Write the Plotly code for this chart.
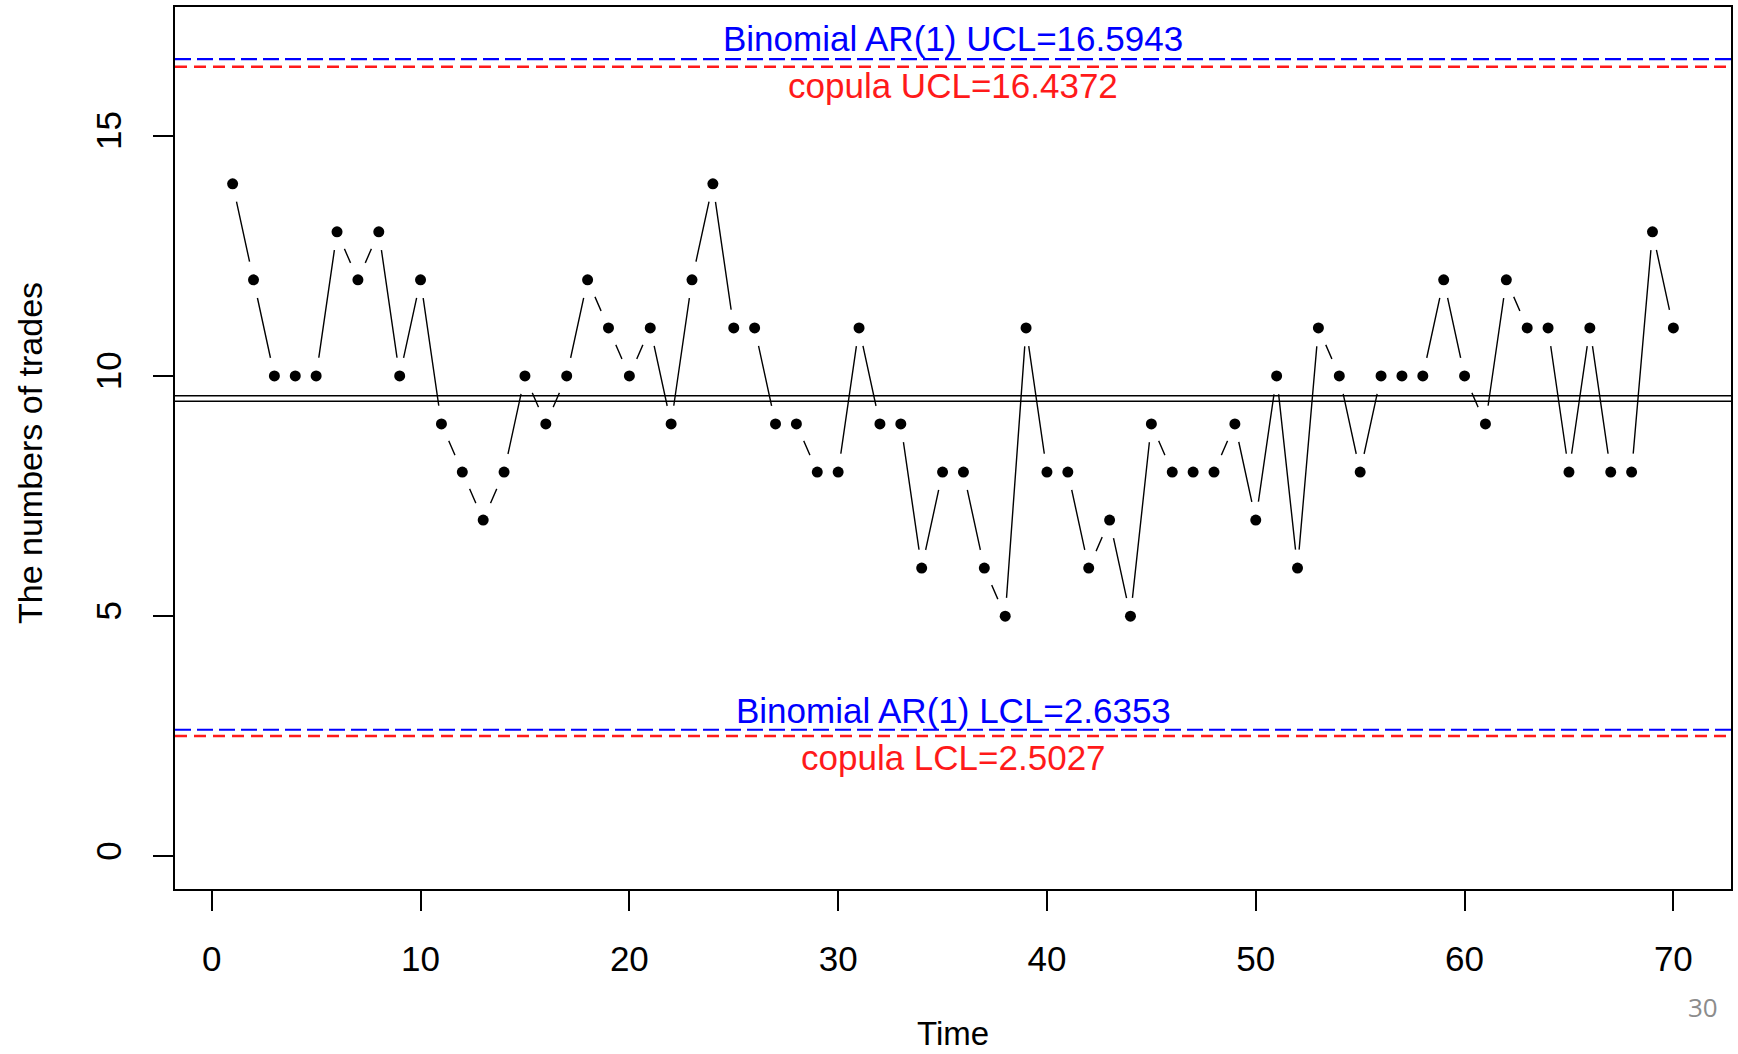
import plotly.graph_objects as go

# ---- data ----
time = list(range(1, 71))
trades = [14, 12, 10, 10, 10, 13, 12, 13, 10, 12,
          9, 8, 7, 8, 10, 9, 10, 12, 11, 10,
          11, 9, 12, 14, 11, 11, 9, 9, 8, 8,
          11, 9, 9, 6, 8, 8, 6, 5, 11, 8,
          8, 6, 7, 5, 9, 8, 8, 8, 9, 7,
          10, 6, 11, 10, 8, 10, 10, 10, 12, 10,
          9, 12, 11, 11, 8, 11, 8, 8, 13, 11]
center_lines = [9.586, 9.471]
binom_ucl, binom_lcl = 16.5943, 2.6353
cop_ucl, cop_lcl = 16.4372, 2.5027
x_ticks = [0, 10, 20, 30, 40, 50, 60, 70]
y_ticks = [0, 5, 10, 15]

FONT = "Liberation Sans, Arial, sans-serif"
BLUE = "#0000ff"
RED = "#ff1a1a"

fig = go.Figure()
# connecting line (R type="b")
fig.add_trace(go.Scatter(x=time, y=trades, mode="lines",
                         line=dict(color="black", width=1.4), hoverinfo="skip"))
# white masks that create the gaps around points
fig.add_trace(go.Scatter(x=time, y=trades, mode="markers",
                         marker=dict(color="white", size=37, line=dict(width=0)),
                         hoverinfo="skip"))
# points
fig.add_trace(go.Scatter(x=time, y=trades, mode="markers",
                         marker=dict(color="black", size=11, line=dict(width=0))))

for c in center_lines:
    fig.add_hline(y=c, line=dict(color="black", width=1.5))
fig.add_hline(y=binom_ucl, line=dict(color=BLUE, width=2.2, dash="16px,6px"))
fig.add_hline(y=cop_ucl, line=dict(color=RED, width=2.5, dash="12px,7px"))
fig.add_hline(y=binom_lcl, line=dict(color=BLUE, width=2.2, dash="16px,6px"))
fig.add_hline(y=cop_lcl, line=dict(color=RED, width=2.5, dash="12px,7px"))

xmid = (time[0] + time[-1]) / 2
labels = [
    (binom_ucl, f"Binomial AR(1) UCL={binom_ucl}", BLUE, 21),
    (cop_ucl, f"copula UCL={cop_ucl}", RED, -19),
    (binom_lcl, f"Binomial AR(1) LCL={binom_lcl}", BLUE, 19),
    (cop_lcl, f"copula LCL={cop_lcl}", RED, -21),
]
for yv, txt, col, ys in labels:
    fig.add_annotation(x=xmid, y=yv, text=txt, showarrow=False,
                       xanchor="center", yanchor="middle", yshift=ys,
                       font=dict(family=FONT, size=35, color=col))

# axis titles
fig.add_annotation(xref="paper", yref="paper", x=0.5, y=0, yshift=-144,
                   text="Time", showarrow=False, xanchor="center", yanchor="middle",
                   font=dict(family=FONT, size=33, color="black"))
fig.add_annotation(xref="paper", yref="paper", x=0, y=0.5, xshift=-145, yshift=-5,
                   text="The numbers of trades", showarrow=False, textangle=-90,
                   xanchor="center", yanchor="middle",
                   font=dict(family=FONT, size=34, color="black"))
# slide number
fig.add_annotation(xref="paper", yref="paper", x=0.982, y=0, yshift=-118,
                   text="30", showarrow=False, xanchor="center", yanchor="middle",
                   font=dict(family="Open Sans, Lato, sans-serif", size=26, color="#8c8c8c"))

axis_common = dict(showgrid=False, zeroline=False, showline=True, linecolor="black",
                   linewidth=1.5, mirror=True, ticks="outside", ticklen=20,
                   tickwidth=1.5, tickcolor="black",
                   tickfont=dict(family=FONT, size=35, color="black"))
fig.update_xaxes(range=[-1.76, 72.76], tickvals=x_ticks, ticklabelstandoff=18, **axis_common)
fig.update_yaxes(range=[-0.68, 17.68], tickvals=y_ticks, tickangle=-90,
                 ticklabelstandoff=18, **axis_common)

fig.update_layout(width=1738, height=1054, showlegend=False,
                  plot_bgcolor="white", paper_bgcolor="white",
                  margin=dict(l=175, r=5, t=5, b=165))

fig.write_html("out.html", config={"displayModeBar": False},
               post_script="document.body.style.margin='0';document.body.style.overflow='hidden';")
